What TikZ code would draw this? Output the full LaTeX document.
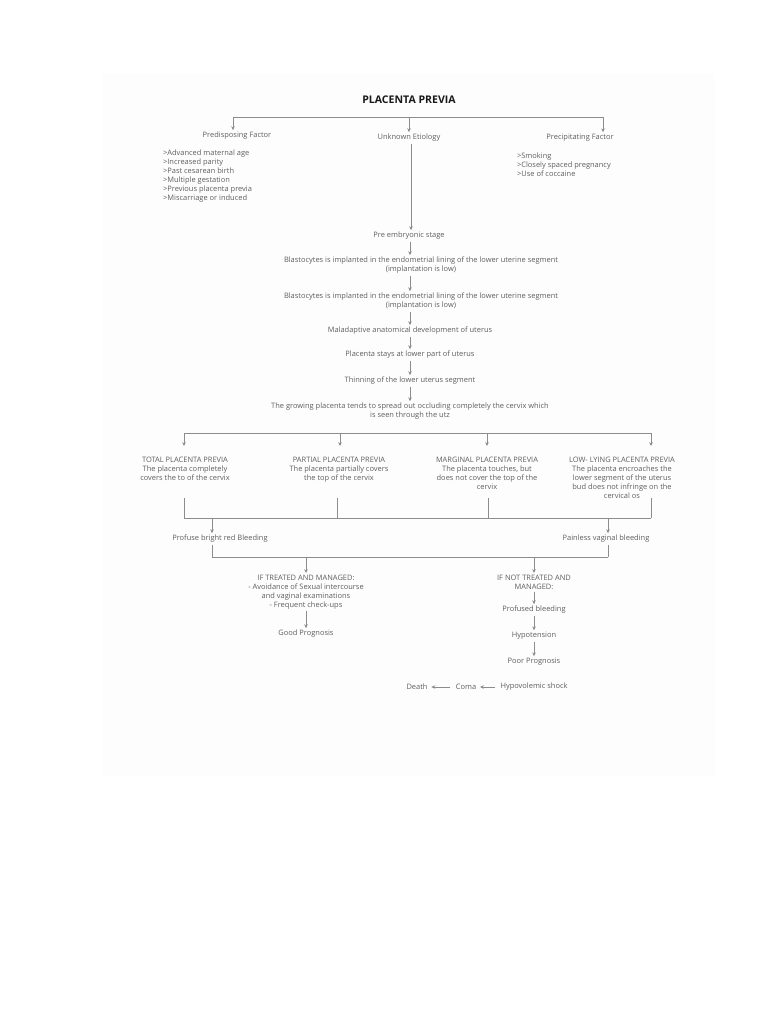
\documentclass[tikz,border=0pt]{standalone}
\usepackage{fontspec}
\setmainfont{Open Sans}
\usetikzlibrary{arrows.meta}
\definecolor{inkgray}{HTML}{5E5E5E}
\definecolor{linegray}{HTML}{8C8C8C}
\definecolor{pagegray}{HTML}{FDFDFD}

\begin{document}
\begin{tikzpicture}[x=0.02cm, y=-0.02cm, >={Stealth[length=2.2pt,width=2pt]},
    txt/.style={text=inkgray, font=\fontsize{4.25}{5.1}\selectfont, align=center, inner sep=1pt},
    list/.style={txt, align=left, anchor=west},
    link/.style={draw=linegray, line width=0.35pt}]
    \useasboundingbox (0,0) rectangle (768,1024);
    \fill[pagegray] (102,73) rectangle (715,776);

    % Title and first level
    \node[txt, text=black!90, font=\fontsize{6}{7}\selectfont\bfseries] (title) at (409,100) {PLACENTA PREVIA};
    \node[txt] (predisp) at (237,136) {Predisposing Factor};
    \node[txt] (unknown) at (409,138) {Unknown Etiology};
    \node[txt] (precip) at (580,138) {Precipitating Factor};
    \node[list] (predisplist) at (161,176) {>Advanced maternal age\\>Increased parity\\>Past cesarean birth\\>Multiple gestation\\>Previous placenta previa\\>Miscarriage or induced};
    \node[list] (preciplist) at (515,165) {>Smoking\\>Closely spaced pregnancy\\>Use of coccaine};

    % Main chain
    \node[txt] (preemb) at (409,236) {Pre embryonic stage};
    \node[txt] (blasta) at (421,265.5) {Blastocytes is implanted in the endometrial lining of the lower uterine segment\\(implantation is low)};
    \node[txt] (blastb) at (421,301.5) {Blastocytes is implanted in the endometrial lining of the lower uterine segment\\(implantation is low)};
    \node[txt] (malad) at (410,331) {Maladaptive anatomical development of uterus};
    \node[txt] (stays) at (410,355) {Placenta stays at lower part of uterus};
    \node[txt] (thin) at (410,381) {Thinning of the lower uterus segment};
    \node[txt] (grow) at (410,411.5) {The growing placenta tends to spread out occluding completely the cervix which\\is seen through the utz};

    % Types
    \node[txt, anchor=north] (total) at (185,455) {TOTAL PLACENTA PREVIA\\The placenta completely\\covers the to of the cervix};
    \node[txt, anchor=north] (partial) at (339,455) {PARTIAL PLACENTA PREVIA\\The placenta partially covers\\the top of the cervix};
    \node[txt, anchor=north] (marginal) at (487,455) {MARGINAL PLACENTA PREVIA\\The placenta touches, but\\does not cover the top of the\\cervix};
    \node[txt, anchor=north] (lowlying) at (622,455) {LOW- LYING PLACENTA PREVIA\\The placenta encroaches the\\lower segment of the uterus\\bud does not infringe on the\\cervical os};

    % Bleeding
    \node[txt] (profuse) at (220,539) {Profuse bright red Bleeding};
    \node[txt] (painless) at (606,539) {Painless vaginal bleeding};

    % Outcomes
    \node[txt, anchor=north] (treated) at (306,573) {IF TREATED AND MANAGED:\\- Avoidance of Sexual intercourse\\and vaginal examinations\\- Frequent check-ups};
    \node[txt] (good) at (306,634) {Good Prognosis};
    \node[txt, anchor=north] (nottreated) at (534,573) {IF NOT TREATED AND\\MANAGED:};
    \node[txt] (profused) at (534,610) {Profused bleeding};
    \node[txt] (hypo) at (534,636) {Hypotension};
    \node[txt] (poor) at (534,662) {Poor Prognosis};
    \node[txt] (shock) at (534,687) {Hypovolemic shock};
    \node[txt] (coma) at (466,687) {Coma};
    \node[txt] (death) at (417,687) {Death};

    % Bars
    \coordinate (topL) at (233,117);
    \coordinate (topM) at (409,117);
    \coordinate (topR) at (603,117);
    \coordinate (typeL) at (184,433);
    \coordinate (typeR) at (651,433);
    \coordinate (joinL) at (184,518);
    \coordinate (joinR) at (651,518);
    \coordinate (outL) at (212,557);
    \coordinate (outR) at (608,557);

    % Arrows
    \draw[link] (topL) -- (topR);
    \draw[link, ->] (topL) -- (topL |- predisp.north);
    \draw[link, ->] (topM) -- (topM |- unknown.north);
    \draw[link, ->] (topR) -- (topR |- precip.north);
    \draw[link, ->] (unknown.south -| 411,0) -- (preemb.north -| 411,0);
    \draw[link, ->] (preemb.south -| 410,0) -- (blasta.north -| 410,0);
    \draw[link, ->] (blasta.south -| 410,0) -- (blastb.north -| 410,0);
    \draw[link, ->] (blastb.south -| 410,0) -- (malad.north -| 410,0);
    \draw[link, ->] (malad) -- (stays);
    \draw[link, ->] (stays) -- (thin);
    \draw[link, ->] (thin) -- (grow);

    \draw[link] (typeL) -- (typeR);
    \foreach \t/\x in {total/184, partial/340, marginal/487, lowlying/651}
        \draw[link, ->] (\x,433) -- (\x,446);
    \draw[link] (joinL) -- (joinR);
    \foreach \x in {184, 337, 488, 651}
        \draw[link] (\x,498) -- (\x,518);
    \draw[link, ->] (joinL -| outL) -- (outL |- profuse.north);
    \draw[link, ->] (joinL -| outR) -- (outR |- painless.north);

    \draw[link] (outL) -- (outR);
    \draw[link] (outL |- profuse.south) -- (outL);
    \draw[link] (outR |- painless.south) -- (outR);
    \draw[link, ->] (outL -| treated.north) -- (treated.north);
    \draw[link, ->] (outL -| nottreated.north) -- (nottreated.north);

    \draw[link, ->] (treated) -- (good);
    \draw[link, ->] (nottreated) -- (profused);
    \draw[link, ->] (profused) -- (hypo);
    \draw[link, ->] (hypo) -- (poor);
    \draw[link, ->, shorten <=2pt, shorten >=1pt] (shock) -- (coma);
    \draw[link, ->, shorten <=2pt, shorten >=1pt] (coma) -- (death);
\end{tikzpicture}
\end{document}
